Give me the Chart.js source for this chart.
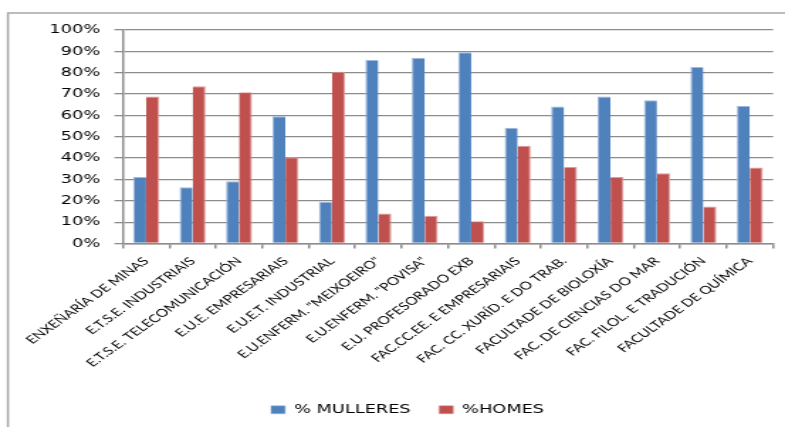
<!DOCTYPE html>
<html>
<head>
<meta charset="utf-8">
<script src="https://cdn.jsdelivr.net/npm/chart.js@4/dist/chart.umd.min.js"></script>
<style>
  html, body { margin: 0; padding: 0; background: #fff; overflow: hidden; }
  #wrap {
    position: absolute; left: 0; top: 0;
    width: 553px; height: 427px;
    transform: scaleX(1.4195); transform-origin: 0 0;
  }
</style>
</head>
<body>
<div id="wrap"><canvas id="c"></canvas></div>
<script>
// Centros da universidade
const categories = [
  "ENXEÑARÍA DE MINAS",
  "E.T.S.E. INDUSTRIAIS",
  "E.T.S.E. TELECOMUNICACIÓN",
  "E.U.E. EMPRESARIAIS",
  "E.U.E.T. INDUSTRIAL",
  "E.U.ENFERM. \"MEIXOEIRO\"",
  "E.U.ENFERM. \"POVISA\"",
  "E.U. PROFESORADO EXB",
  "FAC.CC.EE. E EMPRESARIAIS",
  "FAC. CC. XURÍD. E DO TRAB.",
  "FACULTADE DE BIOLOXÍA",
  "FAC. DE CIENCIAS DO MAR",
  "FAC. FILOL. E TRADUCIÓN",
  "FACULTADE DE QUÍMICA"
];

// Porcentaxe de mulleres e homes en cada centro
const mulleres = [31.2, 26.4, 29.2, 59.6, 19.6, 85.9, 87.0, 89.6, 54.2, 64.2, 68.8, 67.1, 82.7, 64.4];
const homes    = [68.8, 73.6, 70.8, 40.4, 80.4, 14.1, 13.0, 10.4, 45.8, 35.8, 31.2, 32.9, 17.3, 35.6];

// Etiquetas do eixo vertical
const yTickLabels = ["0%", "10%", "20%", "30%", "40%", "50%", "60%", "70%", "80%", "90%", "100%"];

const seriesNames = ["% MULLERES", "%HOMES"];

// Marco do gráfico (liña superior e esquerda)
const framePlugin = {
  id: 'frame',
  beforeDraw(chart) {
    const ctx = chart.ctx;
    ctx.save();
    ctx.strokeStyle = '#a6a6a6';
    ctx.lineWidth = 1.5;
    ctx.beginPath();
    ctx.moveTo(5.6, chart.height);
    ctx.lineTo(5.6, 13);
    ctx.lineTo(chart.width, 13);
    ctx.stroke();
    ctx.restore();
  }
};

const gridColor = '#8c8c8c';

new Chart(document.getElementById('c'), {
  type: 'bar',
  data: {
    labels: categories,
    datasets: [
      {
        label: seriesNames[0],
        data: mulleres,
        backgroundColor: '#4F81BD',
        borderColor: '#9db8dc',
        borderWidth: { top: 1, left: 1, right: 0, bottom: 0 },
        borderSkipped: 'bottom'
      },
      {
        label: seriesNames[1],
        data: homes,
        backgroundColor: '#C0504D',
        borderColor: '#dc9c9a',
        borderWidth: { top: 1, left: 0, right: 1, bottom: 0 },
        borderSkipped: 'bottom'
      }
    ]
  },
  options: {
    responsive: true,
    maintainAspectRatio: false,
    animation: false,
    devicePixelRatio: 1,
    layout: { padding: { left: 29.6, right: 8.4, top: 30, bottom: 1 } },
    datasets: {
      bar: { categoryPercentage: 0.56, barPercentage: 1.0 }
    },
    scales: {
      x: {
        grid: {
          display: true,
          drawOnChartArea: false,
          drawTicks: true,
          tickLength: 5,
          offset: true,
          color: gridColor,
          lineWidth: 1.5
        },
        border: { display: true, color: gridColor, width: 1.5 },
        ticks: {
          autoSkip: false,
          maxRotation: 45,
          minRotation: 45,
          padding: 6,
          color: '#000',
          font: { family: 'Lato', size: 11 }
        },
        afterFit(scale) { scale.height = 140; }
      },
      y: {
        min: 0,
        max: 100,
        ticks: {
          stepSize: 10,
          padding: 10,
          color: '#000',
          font: { family: 'DejaVu Sans', size: 12.5 },
          callback: (v, i) => yTickLabels[i]
        },
        grid: {
          color: gridColor,
          lineWidth: 1.3,
          tickLength: 6,
          drawTicks: true
        },
        border: { display: true, color: gridColor, width: 1.5 },
        afterFit(scale) { scale.width = 57; }
      }
    },
    plugins: {
      legend: {
        position: 'bottom',
        labels: {
          boxWidth: 10,
          boxHeight: 8,
          padding: 20,
          color: '#000',
          font: { family: 'DejaVu Sans', size: 12.5 }
        }
      },
      tooltip: { enabled: false }
    }
  },
  plugins: [framePlugin]
});
</script>
</body>
</html>
